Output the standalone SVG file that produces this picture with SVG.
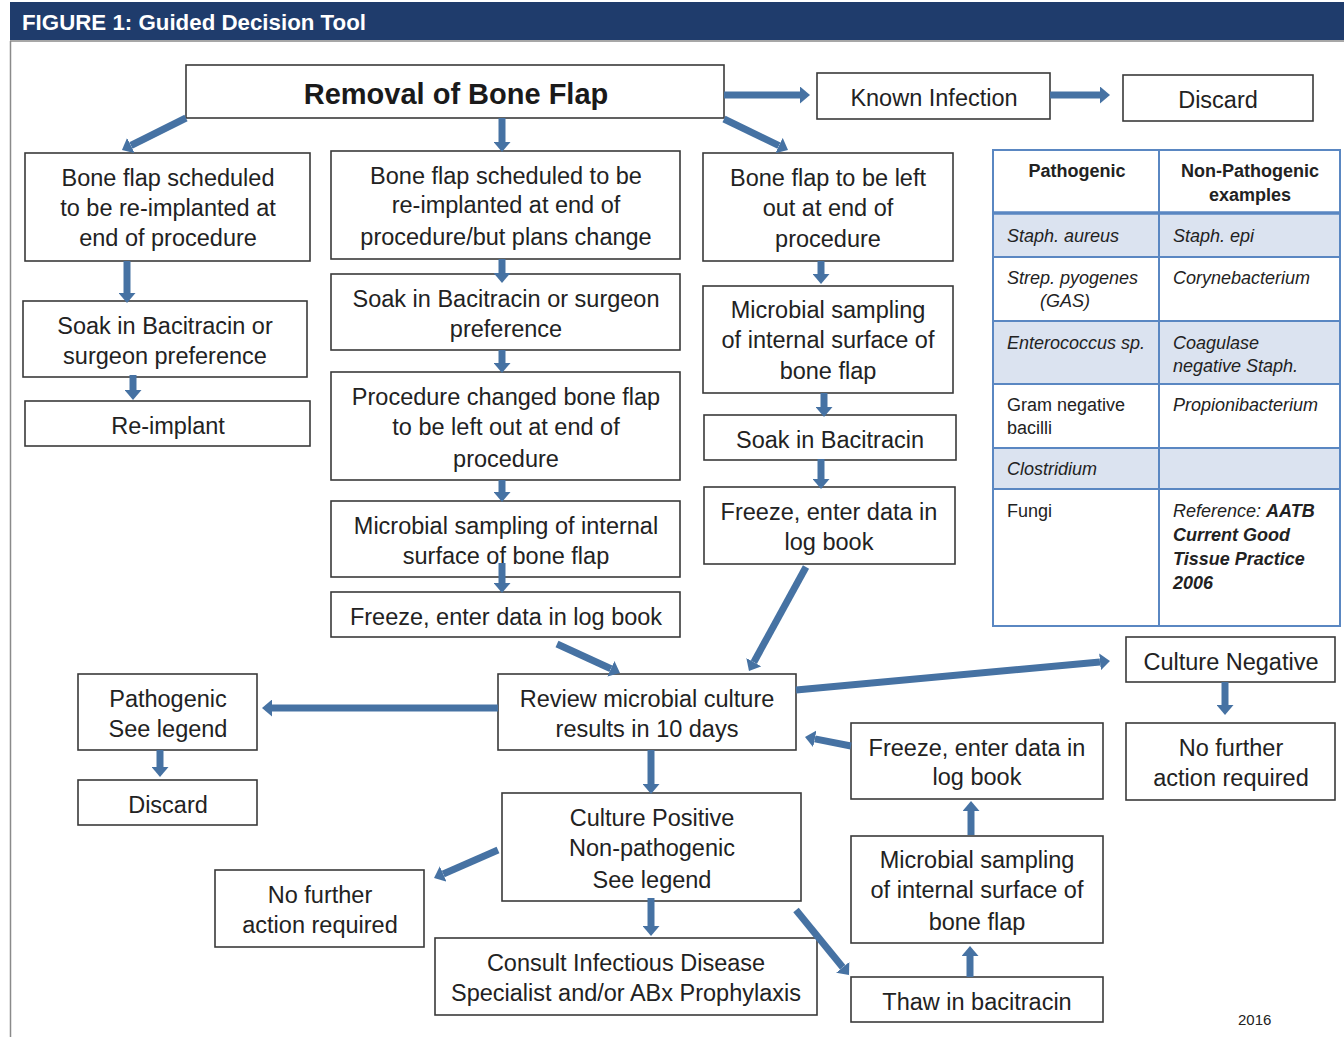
<svg xmlns="http://www.w3.org/2000/svg" width="1344" height="1037" viewBox="0 0 1344 1037">
<defs>
<style>
.box{fill:#fff;stroke:#3a3a3a;stroke-width:1.6}
.t{font-family:"Liberation Sans",Arial,sans-serif;font-size:23.5px;fill:#222;text-anchor:middle}
.title{font-family:"Liberation Sans",Arial,sans-serif;font-size:29px;font-weight:bold;fill:#1a1a1a;text-anchor:middle}
.arr{stroke:#4672a3;stroke-width:7;fill:none;marker-end:url(#ah)}
.tb{font-family:"Liberation Sans",Arial,sans-serif;font-size:18px;fill:#222}
.tbh{font-family:"Liberation Sans",Arial,sans-serif;font-size:18px;font-weight:bold;fill:#222;text-anchor:middle}
.it{font-style:italic}
.grid{stroke:#5a87c2;stroke-width:2;fill:none}
</style>
<marker id="ah" markerUnits="userSpaceOnUse" viewBox="0 0 10 17" markerWidth="10" markerHeight="17" refX="0" refY="8.5" orient="auto">
<path d="M0,0 L10,8.5 L0,17 z" fill="#4672a3"/>
</marker>
</defs>
<rect x="0" y="0" width="1344" height="1037" fill="#fff"/>
<rect x="10" y="2" width="1334" height="38" fill="#1f3c6c"/>
<text x="22" y="30" font-family="'Liberation Sans',Arial,sans-serif" font-size="22.3px" font-weight="bold" fill="#fff">FIGURE 1: Guided Decision Tool</text>
<line x1="10" y1="41" x2="1344" y2="41" stroke="#8a8a8a" stroke-width="1.5"/>
<line x1="10.5" y1="41" x2="10.5" y2="1037" stroke="#8a8a8a" stroke-width="1.5"/>

<g id="n-removal"><rect class="box" x="186" y="65" width="538" height="53"/><text class="title" x="456" y="104">Removal of Bone Flap</text></g>
<g id="n-known"><rect class="box" x="817" y="73" width="233" height="46"/><text class="t" x="934" y="106">Known Infection</text></g>
<g id="n-discard1"><rect class="box" x="1123" y="75" width="190" height="46"/><text class="t" x="1218" y="108">Discard</text></g>

<g id="n-left1"><rect class="box" x="25" y="153" width="285" height="108"/><text class="t" x="168" y="186">Bone flap scheduled</text><text class="t" x="168" y="216">to be re-implanted at</text><text class="t" x="168" y="246">end of procedure</text></g>
<g id="n-left2"><rect class="box" x="23" y="301" width="284" height="76"/><text class="t" x="165" y="334">Soak in Bacitracin or</text><text class="t" x="165" y="364">surgeon preference</text></g>
<g id="n-left3"><rect class="box" x="25" y="401" width="285" height="45"/><text class="t" x="168" y="434">Re-implant</text></g>

<g id="n-mid1"><rect class="box" x="331" y="151" width="349" height="108"/><text class="t" x="506" y="184">Bone flap scheduled to be</text><text class="t" x="506" y="213">re-implanted at end of</text><text class="t" x="506" y="245">procedure/but plans change</text></g>
<g id="n-mid2"><rect class="box" x="331" y="274" width="349" height="76"/><text class="t" x="506" y="307">Soak in Bacitracin or surgeon</text><text class="t" x="506" y="337">preference</text></g>
<g id="n-mid3"><rect class="box" x="331" y="372" width="349" height="108"/><text class="t" x="506" y="405">Procedure changed bone flap</text><text class="t" x="506" y="435">to be left out at end of</text><text class="t" x="506" y="467">procedure</text></g>
<g id="n-mid4"><rect class="box" x="331" y="501" width="349" height="76"/><text class="t" x="506" y="534">Microbial sampling of internal</text><text class="t" x="506" y="564">surface of bone flap</text></g>
<g id="n-mid5"><rect class="box" x="331" y="592" width="349" height="45"/><text class="t" x="506" y="625">Freeze, enter data in log book</text></g>

<g id="n-right1"><rect class="box" x="703" y="153" width="250" height="108"/><text class="t" x="828" y="186">Bone flap to be left</text><text class="t" x="828" y="216">out at end of</text><text class="t" x="828" y="247">procedure</text></g>
<g id="n-right2"><rect class="box" x="703" y="286" width="250" height="107"/><text class="t" x="828" y="318">Microbial sampling</text><text class="t" x="828" y="348">of internal surface of</text><text class="t" x="828" y="379">bone flap</text></g>
<g id="n-right3"><rect class="box" x="704" y="415" width="252" height="45"/><text class="t" x="830" y="448">Soak in Bacitracin</text></g>
<g id="n-right4"><rect class="box" x="704" y="487" width="251" height="77"/><text class="t" x="829" y="520">Freeze, enter data in</text><text class="t" x="829" y="550">log book</text></g>

<g id="n-review"><rect class="box" x="498" y="674" width="298" height="76"/><text class="t" x="647" y="707">Review microbial culture</text><text class="t" x="647" y="737">results in 10 days</text></g>
<g id="n-pathogenic"><rect class="box" x="78" y="674" width="179" height="76"/><text class="t" x="168" y="707">Pathogenic</text><text class="t" x="168" y="737">See legend</text></g>
<g id="n-discard2"><rect class="box" x="78" y="780" width="179" height="45"/><text class="t" x="168" y="813">Discard</text></g>
<g id="n-positive"><rect class="box" x="502" y="793" width="299" height="108"/><text class="t" x="652" y="826">Culture Positive</text><text class="t" x="652" y="856">Non-pathogenic</text><text class="t" x="652" y="888">See legend</text></g>
<g id="n-nofurther1"><rect class="box" x="215" y="870" width="209" height="77"/><text class="t" x="320" y="903">No further</text><text class="t" x="320" y="933">action required</text></g>
<g id="n-consult"><rect class="box" x="435" y="938" width="382" height="77"/><text class="t" x="626" y="971">Consult Infectious Disease</text><text class="t" x="626" y="1001">Specialist and/or ABx Prophylaxis</text></g>
<g id="n-negative"><rect class="box" x="1126" y="637" width="209" height="45"/><text class="t" x="1231" y="670">Culture Negative</text></g>
<g id="n-nofurther2"><rect class="box" x="1126" y="723" width="209" height="77"/><text class="t" x="1231" y="756">No further</text><text class="t" x="1231" y="786">action required</text></g>
<g id="n-freeze3"><rect class="box" x="851" y="723" width="252" height="76"/><text class="t" x="977" y="756">Freeze, enter data in</text><text class="t" x="977" y="785">log book</text></g>
<g id="n-sampling3"><rect class="box" x="851" y="836" width="252" height="107"/><text class="t" x="977" y="868">Microbial sampling</text><text class="t" x="977" y="898">of internal surface of</text><text class="t" x="977" y="930">bone flap</text></g>
<g id="n-thaw"><rect class="box" x="851" y="977" width="252" height="45"/><text class="t" x="977" y="1010">Thaw in bacitracin</text></g>

<g id="connectors">
<line class="arr" x1="724" y1="95" x2="800" y2="95"/>
<line class="arr" x1="1050" y1="95" x2="1100" y2="95"/>
<line class="arr" x1="186" y1="118" x2="130.9" y2="145.5"/>
<line class="arr" x1="502" y1="118" x2="502" y2="142"/>
<line class="arr" x1="724" y1="119" x2="779" y2="145.6"/>
<line class="arr" x1="127" y1="261" x2="127" y2="293"/>
<line class="arr" x1="133" y1="375" x2="133" y2="390"/>
<line class="arr" x1="502" y1="259" x2="502" y2="273"/>
<line class="arr" x1="502" y1="350" x2="502" y2="363"/>
<line class="arr" x1="502" y1="480" x2="502" y2="492"/>
<line class="arr" x1="502" y1="563" x2="502" y2="583"/>
<line class="arr" x1="821" y1="261" x2="821" y2="274"/>
<line class="arr" x1="824" y1="393" x2="824" y2="407"/>
<line class="arr" x1="821" y1="459" x2="821" y2="479"/>
<line class="arr" x1="557" y1="644" x2="610.9" y2="668.8"/>
<line class="arr" x1="806" y1="567" x2="753.8" y2="662.2"/>
<line class="arr" x1="498" y1="708" x2="272" y2="708"/>
<line class="arr" x1="160" y1="750" x2="160" y2="767"/>
<line class="arr" x1="796" y1="690" x2="1100" y2="661.9"/>
<line class="arr" x1="1225" y1="682" x2="1225" y2="705"/>
<line class="arr" x1="851" y1="746" x2="814.8" y2="738.9"/>
<line class="arr" x1="651" y1="750" x2="651" y2="784"/>
<line class="arr" x1="498" y1="850" x2="443.2" y2="874"/>
<line class="arr" x1="651" y1="898" x2="651" y2="926"/>
<line class="arr" x1="796" y1="910" x2="842.7" y2="967.3"/>
<line class="arr" x1="970" y1="977" x2="970" y2="956"/>
<line class="arr" x1="971" y1="835" x2="971" y2="811"/>
</g>

<g id="legend-table">
<rect x="993" y="213" width="347" height="44" fill="#dbe3f0"/>
<rect x="993" y="321" width="347" height="63" fill="#dbe3f0"/>
<rect x="993" y="448" width="347" height="41" fill="#dbe3f0"/>
<rect class="grid" x="993" y="150" width="347" height="476"/>
<line class="grid" x1="1159" y1="150" x2="1159" y2="626"/>
<line x1="993" y1="213" x2="1340" y2="213" stroke="#5a87c2" stroke-width="3.5"/>
<line class="grid" x1="993" y1="257" x2="1340" y2="257"/>
<line class="grid" x1="993" y1="321" x2="1340" y2="321"/>
<line class="grid" x1="993" y1="384" x2="1340" y2="384"/>
<line class="grid" x1="993" y1="448" x2="1340" y2="448"/>
<line class="grid" x1="993" y1="489" x2="1340" y2="489"/>
<text class="tbh" x="1077" y="177">Pathogenic</text>
<text class="tbh" x="1250" y="177">Non-Pathogenic</text>
<text class="tbh" x="1250" y="201">examples</text>
<text class="tb it" x="1007" y="242">Staph. aureus</text>
<text class="tb it" x="1173" y="242">Staph. epi</text>
<text class="tb it" x="1007" y="284">Strep. pyogenes</text>
<text class="tb it" x="1040" y="307">(GAS)</text>
<text class="tb it" x="1173" y="284">Corynebacterium</text>
<text class="tb it" x="1007" y="349">Enterococcus sp.</text>
<text class="tb it" x="1173" y="349">Coagulase</text>
<text class="tb it" x="1173" y="372">negative Staph.</text>
<text class="tb" x="1007" y="411">Gram negative</text>
<text class="tb" x="1007" y="434">bacilli</text>
<text class="tb it" x="1173" y="411">Propionibacterium</text>
<text class="tb it" x="1007" y="475">Clostridium</text>
<text class="tb" x="1007" y="517">Fungi</text>
<text class="tb it" x="1173" y="517">Reference: <tspan font-weight="bold">AATB</tspan></text>
<text class="tb it" x="1173" y="541" font-weight="bold">Current Good</text>
<text class="tb it" x="1173" y="565" font-weight="bold">Tissue Practice</text>
<text class="tb it" x="1173" y="589" font-weight="bold">2006</text>
</g>
<text x="1238" y="1025" font-family="'Liberation Sans',Arial,sans-serif" font-size="15px" fill="#222">2016</text>
</svg>
